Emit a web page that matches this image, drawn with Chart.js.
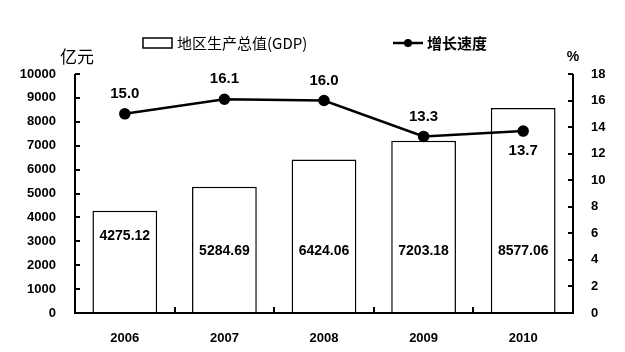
<!DOCTYPE html>
<html>
<head>
<meta charset="utf-8">
<script src="https://cdn.jsdelivr.net/npm/chart.js@4/dist/chart.umd.min.js"></script>
<style>
  html, body { margin: 0; padding: 0; background: #fff; }
  #wrap { width: 625px; height: 352px; }
</style>
</head>
<body>
<div id="wrap"><canvas id="gdpChart" width="625" height="352"></canvas></div>
<script>
// data
const years = ['2006', '2007', '2008', '2009', '2010'];
const gdpValues = [4275.12, 5284.69, 6424.06, 7203.18, 8577.06];
const growthRates = [15.0, 16.1, 16.0, 13.3, 13.7];
const gdpTicks = [0, 1000, 2000, 3000, 4000, 5000, 6000, 7000, 8000, 9000, 10000];
const rateTicks = [0, 2, 4, 6, 8, 10, 12, 14, 16, 18];

const cjkFont = '"Noto Sans CJK SC", "Liberation Sans", sans-serif';
const numFont = '"Liberation Sans Narrow", "Liberation Sans", Arial, sans-serif';
const valFont = '"Liberation Sans", Arial, sans-serif';

// Function to draw axes with inward ticks, labels, and the legend
const decorPlugin = {
  id: 'decor',
  afterDatasetsDraw(chart) {
    const ctx = chart.ctx;
    const area = chart.chartArea;
    const x = chart.scales.x;
    const yl = chart.scales.y;
    const yr = chart.scales.y1;

    ctx.save();
    ctx.strokeStyle = '#000';
    ctx.lineWidth = 2;
    ctx.beginPath();
    ctx.moveTo(area.left, area.top);
    ctx.lineTo(area.left, area.bottom);
    ctx.lineTo(area.right, area.bottom);
    ctx.lineTo(area.right, area.top);
    ctx.stroke();

    // inward ticks
    ctx.beginPath();
    gdpTicks.forEach(v => {
      const py = Math.round(yl.getPixelForValue(v));
      ctx.moveTo(area.left, py);
      ctx.lineTo(area.left + 5, py);
    });
    rateTicks.forEach(v => {
      const py = Math.round(yr.getPixelForValue(v));
      ctx.moveTo(area.right, py);
      ctx.lineTo(area.right - 5, py);
    });
    for (let i = 1; i < years.length; i++) {
      const px = Math.round((x.getPixelForValue(i - 1) + x.getPixelForValue(i)) / 2);
      ctx.moveTo(px, area.bottom);
      ctx.lineTo(px, area.bottom - 6);
    }
    ctx.stroke();

    // bar value labels
    ctx.fillStyle = '#000';
    ctx.textAlign = 'center';
    ctx.textBaseline = 'middle';
    ctx.font = 'bold 14px ' + valFont;
    gdpValues.forEach((v, i) => {
      const py = yl.getPixelForValue(i === 0 ? 3200 : 2600);
      ctx.fillText(v.toFixed(2), x.getPixelForValue(i), py);
    });

    // growth rate labels
    ctx.font = 'bold 15px ' + valFont;
    growthRates.forEach((v, i) => {
      const py = yr.getPixelForValue(v);
      const off = i === growthRates.length - 1 ? 20 : -20;
      ctx.fillText(v.toFixed(1), x.getPixelForValue(i), py + off);
    });

    // axis titles
    ctx.font = '17px ' + cjkFont;
    ctx.fillText('亿元', 77, 57);
    ctx.font = 'bold 14px ' + valFont;
    ctx.fillText('%', 573, 57);

    // legend
    ctx.lineWidth = 1.5;
    ctx.strokeRect(143, 38, 29, 10);
    ctx.textAlign = 'left';
    ctx.font = '15px ' + cjkFont;
    ctx.fillText('地区生产总值(GDP)', 177, 43);
    ctx.lineWidth = 2.5;
    ctx.beginPath();
    ctx.moveTo(393, 43);
    ctx.lineTo(423, 43);
    ctx.stroke();
    ctx.beginPath();
    ctx.arc(408, 43, 4, 0, Math.PI * 2);
    ctx.fill();
    ctx.font = 'bold 15px ' + cjkFont;
    ctx.fillText('增长速度', 427, 43);
    ctx.restore();
  }
};

new Chart(document.getElementById('gdpChart').getContext('2d'), {
  data: {
    labels: years,
    datasets: [
      {
        type: 'line',
        label: '增长速度',
        data: growthRates,
        yAxisID: 'y1',
        borderColor: '#000',
        backgroundColor: '#000',
        borderWidth: 2.5,
        pointRadius: 4.5,
        pointBackgroundColor: '#000',
        tension: 0,
        order: 0
      },
      {
        type: 'bar',
        label: '地区生产总值(GDP)',
        data: gdpValues,
        yAxisID: 'y',
        backgroundColor: '#fff',
        borderColor: '#000',
        borderWidth: 1.5,
        barPercentage: 0.65,
        categoryPercentage: 1,
        order: 1
      }
    ]
  },
  options: {
    responsive: false,
    animation: false,
    layout: { padding: { top: 74, left: 0, right: 0, bottom: 0 } },
    plugins: {
      legend: { display: false },
      tooltip: { enabled: false }
    },
    scales: {
      x: {
        grid: { display: false },
        border: { display: false },
        ticks: { color: '#000', padding: 10, font: { family: valFont, size: 13, weight: 'bold' } },
        afterFit(scale) { scale.height = 39; }
      },
      y: {
        position: 'left',
        min: 0,
        max: 10000,
        grid: { display: false },
        border: { display: false },
        ticks: {
          stepSize: 1000, color: '#000', padding: 11,
          font: { family: numFont, size: 13, weight: 'bold' },
          callback: v => String(v)
        },
        afterFit(scale) { scale.width = 75; }
      },
      y1: {
        position: 'right',
        min: 0,
        max: 18,
        grid: { display: false },
        border: { display: false },
        ticks: {
          stepSize: 2, color: '#000', padding: 10,
          font: { family: numFont, size: 13, weight: 'bold' },
          callback: v => String(v)
        },
        afterFit(scale) { scale.width = 52; }
      }
    }
  },
  plugins: [decorPlugin]
});
</script>
</body>
</html>
